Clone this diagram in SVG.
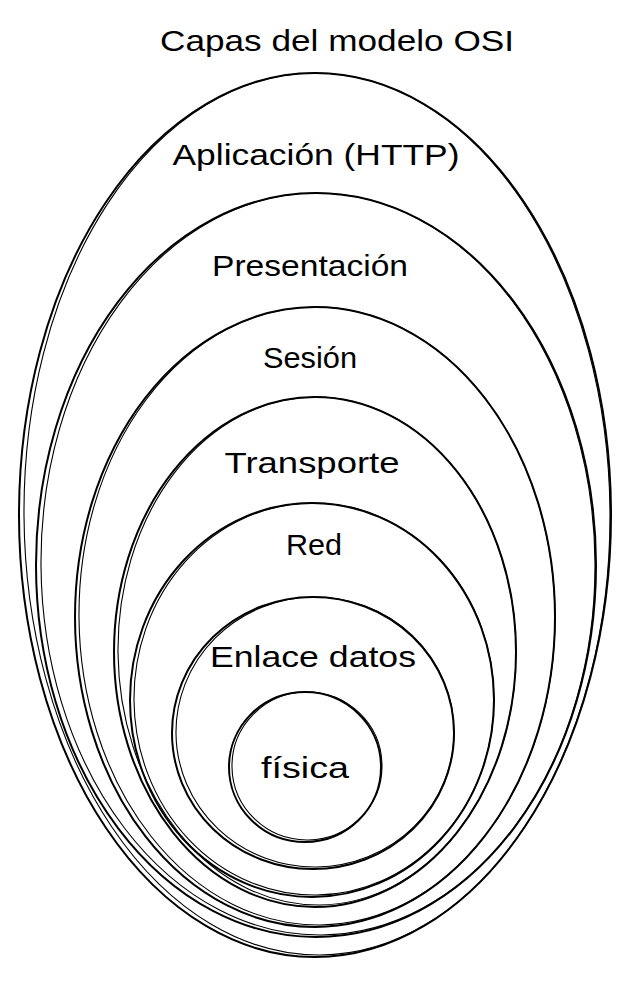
<svg xmlns="http://www.w3.org/2000/svg" width="628" height="981" viewBox="0 0 628 981">
<style>
.o{fill:none;stroke:#000;stroke-width:2;stroke-linecap:round}
.i{fill:none;stroke:#000;stroke-width:1.1;stroke-linecap:round}
.t{font-family:"Liberation Sans","Open Sans",sans-serif;font-size:29px;fill:#000;text-anchor:middle}
</style>
<rect width="628" height="981" fill="#fff"/>
<text class="t" x="337" y="51" textLength="354" lengthAdjust="spacingAndGlyphs">Capas del modelo OSI</text>
<g id="aplicacion">
<ellipse class="o" cx="315" cy="515" rx="296" ry="442"/>
<ellipse class="i" cx="317" cy="514" rx="293" ry="441" transform="rotate(-0.4 315 515)"/>
<text class="t" x="316" y="165" textLength="287" lengthAdjust="spacingAndGlyphs">Aplicación (HTTP)</text>
</g>
<g id="presentacion">
<ellipse class="o" cx="316" cy="565" rx="280" ry="372"/>
<ellipse class="i" cx="318" cy="564" rx="277" ry="371" transform="rotate(-0.5 316 565)"/>
<text class="t" x="310" y="276" textLength="196" lengthAdjust="spacingAndGlyphs">Presentación</text>
</g>
<g id="sesion">
<ellipse class="o" cx="315" cy="617" rx="240" ry="310"/>
<ellipse class="i" cx="317" cy="616" rx="238" ry="309" transform="rotate(-0.6 315 617)"/>
<text class="t" x="310" y="368" textLength="94" lengthAdjust="spacingAndGlyphs">Sesión</text>
</g>
<g id="transporte">
<ellipse class="o" cx="315" cy="652" rx="201" ry="255"/>
<ellipse class="i" cx="317" cy="651" rx="199" ry="254" transform="rotate(-0.6 315 652)"/>
<text class="t" x="312" y="473" textLength="175" lengthAdjust="spacingAndGlyphs">Transporte</text>
</g>
<g id="red">
<ellipse class="o" cx="312" cy="700" rx="182" ry="197"/>
<ellipse class="i" cx="314" cy="699" rx="180" ry="196" transform="rotate(-0.7 312 700)"/>
<text class="t" x="314" y="555" textLength="56" lengthAdjust="spacingAndGlyphs">Red</text>
</g>
<g id="enlace">
<ellipse class="o" cx="313" cy="733" rx="141" ry="136"/>
<ellipse class="i" cx="315" cy="732" rx="139" ry="135" transform="rotate(-0.8 313 733)"/>
<text class="t" x="313" y="667" textLength="206" lengthAdjust="spacingAndGlyphs">Enlace datos</text>
</g>
<g id="fisica">
<ellipse class="o" cx="305" cy="767" rx="76" ry="75"/>
<ellipse class="i" cx="307" cy="766" rx="75" ry="74" transform="rotate(-1 305 767)"/>
<text class="t" x="305" y="778" textLength="88" lengthAdjust="spacingAndGlyphs">física</text>
</g>
</svg>
